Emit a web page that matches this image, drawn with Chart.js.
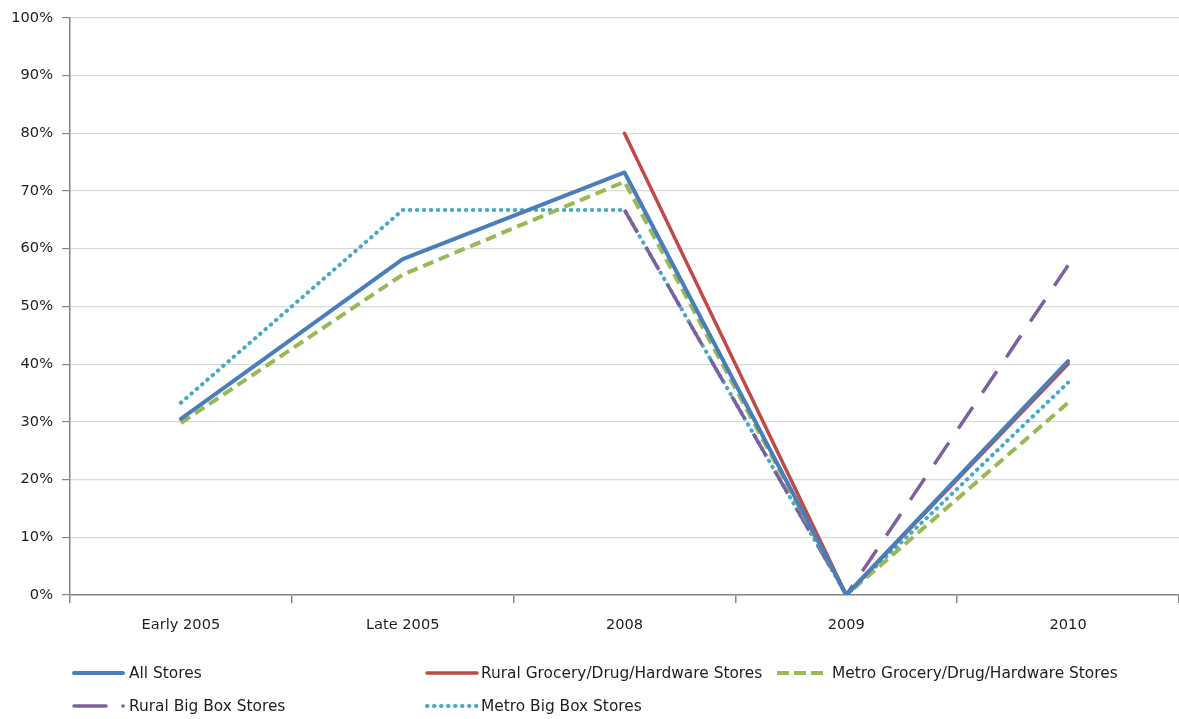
<!DOCTYPE html>
<html>
<head>
<meta charset="utf-8">
<script src="https://cdn.jsdelivr.net/npm/chart.js@4/dist/chart.umd.min.js"></script>
<style>
  html, body { margin: 0; padding: 0; background: #ffffff; }
  #wrap { width: 1179px; height: 719px; position: relative; }
</style>
</head>
<body>
<div id="wrap"><canvas id="c"></canvas></div>
<script>
// Survey periods
const periods = ['Early 2005', 'Late 2005', '2008', '2009', '2010'];

// Share of stores (percent) per period
const allStores        = [30.5, 58.2, 73.2, 0, 40.5];
const ruralGrocery     = [null, null, 80.0, 0, 40.0];
const metroGrocery     = [29.8, 55.5, 71.6, 0, 33.3];
const ruralBigBox      = [null, null, 66.7, 0, 57.1];
const metroBigBox      = [33.3, 66.7, 66.7, 0, 36.8];

// Y axis tick values
const yTicks = [0, 10, 20, 30, 40, 50, 60, 70, 80, 90, 100];

const FONT = 'DejaVu Sans';
const TEXT = '#1e1e1e';

const series = [
  { label: 'All Stores', data: allStores, color: '#4A7EBB', width: 4, dash: [], cap: 'round', legendCol: 0, legendRow: 0 },
  { label: 'Rural Grocery/Drug/Hardware Stores', data: ruralGrocery, color: '#BE4B48', width: 3.5, dash: [], cap: 'round', legendCol: 1, legendRow: 0 },
  { label: 'Metro Grocery/Drug/Hardware Stores', data: metroGrocery, color: '#98B954', width: 4, dash: [11, 6], cap: 'butt', legendCol: 2, legendRow: 0 },
  { label: 'Rural Big Box Stores', data: ruralBigBox, color: '#7D60A0', width: 3.5, dash: [26, 17], cap: 'butt', legendCol: 0, legendRow: 1 },
  { label: 'Metro Big Box Stores', data: metroBigBox, color: '#46AAC5', width: 4, dash: [0.5, 6.5], cap: 'round', legendCol: 1, legendRow: 1 }
];

// Legend laid out in fixed columns below the x axis
const legendCols = [
  { sx: 74, ex: 123, tx: 129 },
  { sx: 427, ex: 477, tx: 481 },
  { sx: 777, ex: 823, tx: 832 }
];
const legendRows = [673, 706];

const bottomLegend = {
  id: 'bottomLegend',
  afterDraw(chart) {
    const ctx = chart.ctx;
    ctx.save();
    chart.data.datasets.forEach((ds) => {
      const col = legendCols[ds.legendCol];
      const y = legendRows[ds.legendRow];
      ctx.strokeStyle = ds.borderColor;
      ctx.fillStyle = ds.borderColor;
      ctx.lineWidth = ds.borderWidth;
      if (ds.label === 'Rural Big Box Stores') {
        // long dash followed by a dot
        ctx.setLineDash([]);
        ctx.lineCap = 'round';
        ctx.beginPath();
        ctx.moveTo(col.sx, y);
        ctx.lineTo(col.sx + 32, y);
        ctx.stroke();
        ctx.beginPath();
        ctx.arc(col.ex, y, 1.8, 0, Math.PI * 2);
        ctx.fill();
      } else if (ds.label === 'Metro Grocery/Drug/Hardware Stores') {
        ctx.setLineDash([12, 5]);
        ctx.lineCap = 'butt';
        ctx.beginPath();
        ctx.moveTo(col.sx, y);
        ctx.lineTo(col.ex, y);
        ctx.stroke();
      } else {
        ctx.setLineDash(ds.borderDash || []);
        ctx.lineCap = ds.borderCapStyle;
        ctx.beginPath();
        ctx.moveTo(col.sx, y);
        ctx.lineTo(col.ex, y);
        ctx.stroke();
      }
      ctx.setLineDash([]);
      ctx.fillStyle = TEXT;
      ctx.font = '15.4px "' + FONT + '"';
      ctx.textBaseline = 'middle';
      ctx.textAlign = 'left';
      ctx.fillText(ds.label, col.tx, y + 1);
    });
    ctx.restore();
  }
};

new Chart(document.getElementById('c'), {
  type: 'line',
  data: {
    labels: periods,
    datasets: series.map((s) => ({
      label: s.label,
      data: s.data,
      borderColor: s.color,
      backgroundColor: s.color,
      borderWidth: s.width,
      borderDash: s.dash,
      borderCapStyle: s.cap,
      borderJoinStyle: 'round',
      pointRadius: 0,
      pointHoverRadius: 0,
      tension: 0,
      fill: false,
      spanGaps: false,
      legendCol: s.legendCol,
      legendRow: s.legendRow
    }))
  },
  options: {
    responsive: true,
    maintainAspectRatio: false,
    animation: false,
    events: [],
    layout: { padding: { top: 15, right: 0, bottom: 0, left: 0 } },
    plugins: {
      legend: { display: false },
      tooltip: { enabled: false },
      title: { display: false }
    },
    scales: {
      x: {
        offset: true,
        grid: {
          offset: true,
          drawOnChartArea: false,
          drawTicks: true,
          tickLength: 8,
          tickColor: '#868686',
          lineWidth: 1.5
        },
        border: { color: '#868686', width: 1.5 },
        ticks: {
          color: TEXT,
          font: { family: FONT, size: 14.6 },
          padding: 13,
          maxRotation: 0
        },
        afterFit(scale) { scale.height = 124; }
      },
      y: {
        min: 0,
        max: 100,
        afterBuildTicks(scale) { scale.ticks = yTicks.map((v) => ({ value: v })); },
        grid: {
          color: '#d9d9d9',
          lineWidth: 1.2,
          drawTicks: true,
          tickLength: 8,
          tickColor: '#868686'
        },
        border: { color: '#868686', width: 1.5 },
        ticks: {
          color: TEXT,
          font: { family: FONT, size: 14.6 },
          padding: 9,
          callback: (v) => v + '%'
        },
        afterFit(scale) { scale.width = 70; }
      }
    }
  },
  plugins: [bottomLegend]
});
</script>
</body>
</html>
